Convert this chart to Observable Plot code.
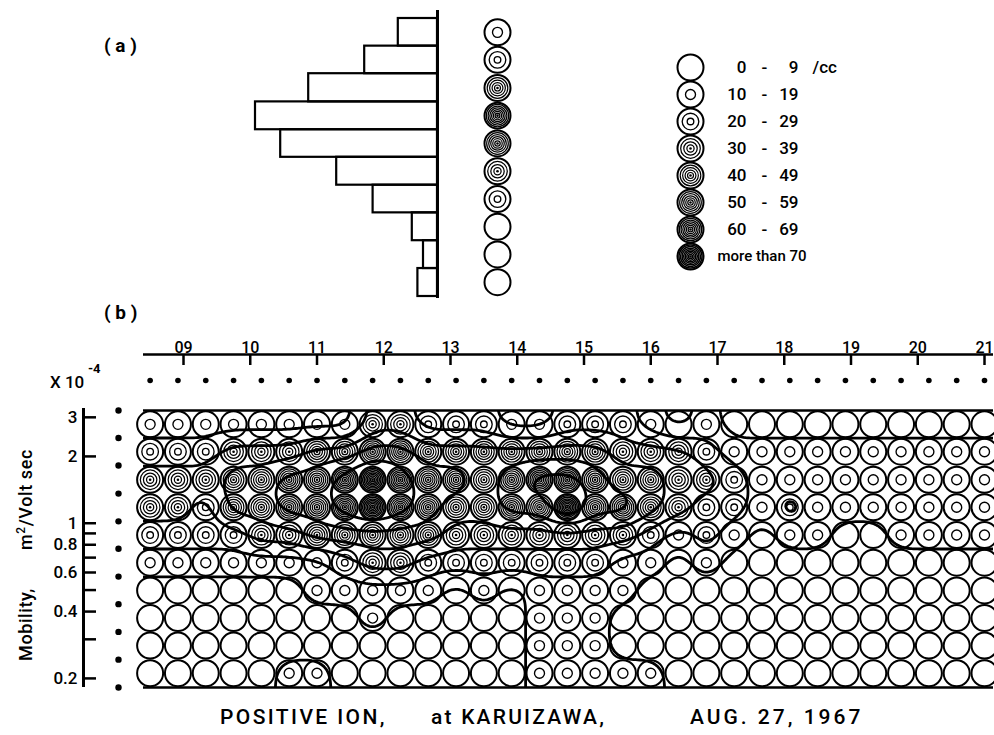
<!DOCTYPE html>
<html><head><meta charset="utf-8">
<script src="https://cdn.jsdelivr.net/npm/d3@7"></script>
<script src="https://cdn.jsdelivr.net/npm/@observablehq/plot@0.6"></script>
<style>
html,body{margin:0;padding:0;background:#fff;}
#wrap{position:relative;width:994px;height:735px;overflow:hidden;background:#fff;font-family:Roboto,"DejaVu Sans",sans-serif;color:#000;}
#wrap svg{position:absolute;left:0;top:0;}
.lbl{position:absolute;white-space:pre;line-height:1;}
</style></head><body><div id="wrap"></div>
<script>
// ---------- data ----------
const times = ["08:30","08:55","09:20","09:45","10:10","10:35","11:00","11:25","11:50","12:15","12:40",
  "13:05","13:30","13:55","14:20","14:45","15:10","15:35","16:00","16:25","16:50","17:15","17:40",
  "18:05","18:30","18:55","19:20","19:45","20:10","20:35","21:00"];
// mobility channel centres and edges (x10^-4 m^2/Volt sec), top row = highest mobility
const rowMobility = [2.79, 2.10, 1.57, 1.18, 0.885, 0.664, 0.498, 0.374, 0.281, 0.211];
const mobilityEdges = [3.22, 2.42, 1.82, 1.36, 1.02, 0.767, 0.575, 0.432, 0.324, 0.243, 0.182];
// concentration class per cell (0: 0-9, 1: 10-19, ... 7: more than 70 /cc)
const levels = [
  [1,1,1,1,1,1,1,1,3,3,2,2,2,1,1,2,2,2,1,0,1,0,0,0,0,0,0,0,0,0,0],
  [2,2,2,3,3,3,4,4,5,5,4,4,4,4,4,4,4,3,3,3,2,1,1,1,1,1,1,1,1,1,1],
  [3,3,3,4,4,5,5,6,7,6,5,5,4,5,6,6,5,4,4,3,3,2,1,1,1,1,1,1,1,1,1],
  [3,3,2,4,4,5,5,6,7,6,5,4,4,5,5,7,5,5,4,3,2,2,1,2,1,1,1,1,1,1,1],
  [2,2,2,2,3,3,4,4,4,4,4,3,3,3,3,3,3,3,2,1,2,1,0,1,1,0,0,1,1,1,1],
  [1,1,1,1,1,1,1,2,3,3,2,2,2,2,2,2,2,1,1,0,1,0,0,0,0,0,0,0,0,0,0],
  [0,0,0,0,0,0,1,1,1,1,1,0,1,0,1,1,1,1,0,0,0,0,0,0,0,0,0,0,0,0,0],
  [0,0,0,0,0,0,0,0,1,0,0,0,0,0,1,1,1,0,0,0,0,0,0,0,0,0,0,0,0,0,0],
  [0,0,0,0,0,0,0,0,0,0,0,0,0,0,1,1,1,0,0,0,0,0,0,0,0,0,0,0,0,0,0],
  [0,0,0,0,0,1,1,0,0,0,0,0,0,0,1,1,1,1,1,0,0,0,0,0,0,0,0,0,0,0,0]
];
// (a) mean concentration per mobility channel (/cc)
const histValues = [14, 26, 46, 65, 56, 36, 23, 9, 5, 7];
const legendLow = [0, 10, 20, 30, 40, 50, 60];
const legendHigh = [9, 19, 29, 39, 49, 59, 69];
const legendLast = "more than 70";
const contourLevels = [10, 20, 30, 40, 50, 60];
const hourTicks = [9,10,11,12,13,14,15,16,17,18,19,20,21];
const hourLabels = ["09","10","11","12","13","14","15","16","17","18","19","20","21"];
const yTickValues = [3, 2, 1, 0.8, 0.6, 0.4, 0.2];
const yTickLabels = ["3", "2", "1", "0.8", "0.6", "0.4", "0.2"];
const yMinorTicks = [0.9, 0.7, 0.5, 0.3];

// ---------- helpers ----------
const W = 994, H = 735;
const FONT = "Roboto, 'DejaVu Sans', sans-serif";
const svgStyle = {background: "transparent", fontFamily: FONT, color: "black", overflow: "visible"};
const hourOf = t => { const [h, m] = t.split(":").map(Number); return h + m / 60; };
const colStep = hourOf(times[1]) - hourOf(times[0]);
const t0 = hourOf(times[0]);
const xDomain = [8.4007, 21.1348];
const yDomain = [mobilityEdges[mobilityEdges.length - 1], mobilityEdges[0]];
const nRow = levels.length, nCol = levels[0].length;
const logTop = Math.log10(mobilityEdges[0]), logBottom = Math.log10(mobilityEdges[nRow]);
const rowStep = (logTop - logBottom) / nRow;
const concOf = level => level * 10 + 5;

const cells = levels.flatMap((row, r) => row.map((level, c) => ({
  hour: hourOf(times[c]), mob: rowMobility[r], level
})));

// bilinear reading of the cell grid, used only to let Plot.contour trace the iso-lines
function concAt(hour, mob) {
  const u = Math.max(0, Math.min(nCol - 1, (hour - t0) / colStep));
  const v = Math.max(0, Math.min(nRow - 1, (logTop - Math.log10(mob)) / rowStep - 0.5));
  const c0 = Math.floor(u), r0 = Math.floor(v);
  const c1 = Math.min(c0 + 1, nCol - 1), r1 = Math.min(r0 + 1, nRow - 1);
  const fu = u - c0, fv = v - r0;
  const g = (r, c) => concOf(levels[r][c]);
  return (g(r0, c0) * (1 - fu) + g(r0, c1) * fu) * (1 - fv) + (g(r1, c0) * (1 - fu) + g(r1, c1) * fu) * fv;
}

const ringMax = [0, 5.0, 8.3, 9.8, 10.3, 10.8, 11.2, 11.5];
const ringMin = [0, 5.0, 3.3, 3.6, 3.0, 2.7, 2.4, 2.1];
const ringW   = [0, 1.35, 1.35, 1.25, 1.2, 1.25, 1.3, 1.5];
function symbolMarks(data, levelOf, pos) {
  const marks = [Plot.dot(data, {...pos, r: 13, stroke: "black", strokeWidth: 2, fill: "white"})];
  for (let n = 1; n <= 7; n++) {
    const sub = data.filter(d => levelOf(d) === n);
    if (!sub.length) continue;
    for (let k = 0; k < n; k++) {
      const r = n === 1 ? ringMax[1] : ringMax[n] - k * (ringMax[n] - ringMin[n]) / (n - 1);
      marks.push(Plot.dot(sub, {...pos, r, stroke: "black", strokeWidth: ringW[n], fill: "none"}));
    }
  }
  marks.push(Plot.dot(data.filter(d => levelOf(d) >= 3), {...pos, r: 1.3, fill: "black", stroke: "none"}));
  return marks;
}
const wrap = document.getElementById("wrap");
function add(el) { wrap.appendChild(el); }
function label(html, css) { const d = document.createElement("div"); d.className = "lbl"; d.innerHTML = html; Object.assign(d.style, css); wrap.appendChild(d); }

// ---------- (a) histogram + symbol column ----------
const histRows = histValues.map((v, i) => ({value: v, lo: mobilityEdges[i + 1], hi: mobilityEdges[i], mob: rowMobility[i], level: Math.min(7, Math.floor(v / 10))}));
add(Plot.plot({
  width: W, height: H, marginLeft: 157, marginRight: W - 437, marginTop: 18, marginBottom: H - 296,
  style: svgStyle,
  x: {domain: [0, 100], reverse: true, axis: null},
  y: {type: "log", domain: yDomain, axis: null},
  marks: [
    Plot.rectX(histRows, {x: "value", y1: "lo", y2: "hi", fill: "none", stroke: "black", strokeWidth: 2.2}),
    Plot.ruleX([0], {strokeWidth: 3, insetTop: -8, insetBottom: -2}),
    ...symbolMarks(histRows, d => d.level, {y: "mob", frameAnchor: "right", dx: 60})
  ]
}));

// ---------- legend ----------
const legendItems = [...legendLow.map((lo, i) => ({level: i, lo, hi: legendHigh[i]})), {level: 7, lo: null, hi: null}];
add(Plot.plot({
  width: W, height: H, marginLeft: 690, marginRight: 100, marginTop: 65, marginBottom: H - 257,
  style: svgStyle,
  x: {axis: null}, y: {type: "point", domain: legendItems.map(d => d.level), padding: 0, axis: null},
  marks: [
    ...symbolMarks(legendItems, d => d.level, {y: "level", frameAnchor: "left"}),
    Plot.text(legendItems.filter(d => d.lo !== null), {y: "level", frameAnchor: "left", dx: 56, text: d => String(d.lo), textAnchor: "end", fontSize: 17, fontWeight: 500}),
    Plot.text(legendItems.filter(d => d.lo !== null), {y: "level", frameAnchor: "left", dx: 74, text: () => "-", textAnchor: "middle", fontSize: 17, fontWeight: 500}),
    Plot.text(legendItems.filter(d => d.hi !== null), {y: "level", frameAnchor: "left", dx: 108, text: d => String(d.hi), textAnchor: "end", fontSize: 17, fontWeight: 500}),
    Plot.text(legendItems.slice(0, 1), {y: "level", frameAnchor: "left", dx: 122, text: () => "/cc", textAnchor: "start", fontSize: 17, fontWeight: 500, letterSpacing: 1.5}),
    Plot.text(legendItems.slice(7), {y: "level", frameAnchor: "left", dx: 27, text: () => legendLast, textAnchor: "start", fontSize: 15, fontWeight: 500})
  ]
}));

// ---------- (b) grid of symbols + contours ----------
add(Plot.plot({
  width: W, height: H, marginLeft: 143, marginRight: 1, marginTop: 410, marginBottom: H - 687,
  style: svgStyle,
  x: {domain: xDomain, axis: null},
  y: {type: "log", domain: yDomain, axis: null},
  marks: [
    ...symbolMarks(cells, d => d.level, {x: "hour", y: "mob"}),
    Plot.contour({
      value: concAt, x1: 8.0, x2: 21.45, y1: 3.7, y2: 0.16,
      pixelSize: 2, blur: 4, thresholds: contourLevels,
      stroke: "black", strokeWidth: 2.8, strokeLinejoin: "round", fill: "none", clip: true
    }),
    Plot.ruleY([mobilityEdges[0], mobilityEdges[nRow]], {strokeWidth: 2.6})
  ]
}));

// ---------- (b) top time axis ----------
add(Plot.plot({
  width: W, height: H, marginLeft: 143, marginRight: 1, marginTop: 330, marginBottom: H - 354,
  style: svgStyle,
  x: {domain: xDomain}, y: {domain: [0, 1], axis: null},
  marks: [
    Plot.ruleY([0], {strokeWidth: 2.5}),
    Plot.axisX({anchor: "bottom", ticks: hourTicks, tickSize: 11, strokeWidth: 2.5, tickFormat: () => "", label: null}),
    Plot.text(hourTicks, {x: d => d, text: (d, i) => hourLabels[i], frameAnchor: "bottom", lineAnchor: "bottom", dy: -2, fontSize: 16, fontWeight: 500}),
    Plot.dot(times, {x: hourOf, frameAnchor: "bottom", dy: 26, r: 2.8, fill: "black"})
  ]
}));

// ---------- (b) mobility axis ----------
add(Plot.plot({
  width: W, height: H, marginLeft: 83, marginRight: W - 96, marginTop: 410, marginBottom: H - 687,
  style: svgStyle,
  x: {domain: [0, 1], axis: null},
  y: {type: "log", domain: yDomain},
  marks: [
    Plot.ruleX([0], {strokeWidth: 3, insetTop: -2}),
    Plot.ruleY([...yTickValues, ...yMinorTicks], {strokeWidth: 2.5}),
    Plot.axisY({anchor: "left", ticks: yTickValues, tickSize: 0, tickPadding: 6, tickFormat: d => yTickLabels[yTickValues.indexOf(d)], fontSize: 17, fontWeight: 500, label: null}),
    Plot.dot(mobilityEdges, {y: d => d, frameAnchor: "right", dx: 22, r: 3.2, fill: "black"})
  ]
}));

// ---------- text ----------
label("( a )", {left: "104px", top: "36px", fontSize: "19px", fontWeight: "bold"});
label("( b )", {left: "104px", top: "303px", fontSize: "19px", fontWeight: "bold"});
label("X 10", {left: "50px", top: "374px", fontSize: "17px", fontWeight: "500"});
label("-4", {left: "88px", top: "362px", fontSize: "13px", fontWeight: "bold"});
label('Mobility,<span style="margin-left:38px">m<sup style="font-size:12px">2</sup>/Volt sec</span>',
  {left: "-125px", top: "545px", width: "300px", height: "20px", textAlign: "center", fontSize: "18px", fontWeight: "500", letterSpacing: "0.6px", transform: "rotate(-90deg)"});
label("POSITIVE ION,", {left: "220px", top: "707px", fontSize: "21px", fontWeight: "500", letterSpacing: "2.4px"});
label("at KARUIZAWA,", {left: "431px", top: "707px", fontSize: "21px", fontWeight: "500", letterSpacing: "2.2px"});
label("AUG. 27, 1967", {left: "690px", top: "707px", fontSize: "21px", fontWeight: "500", letterSpacing: "3.0px"});
</script></body></html>
